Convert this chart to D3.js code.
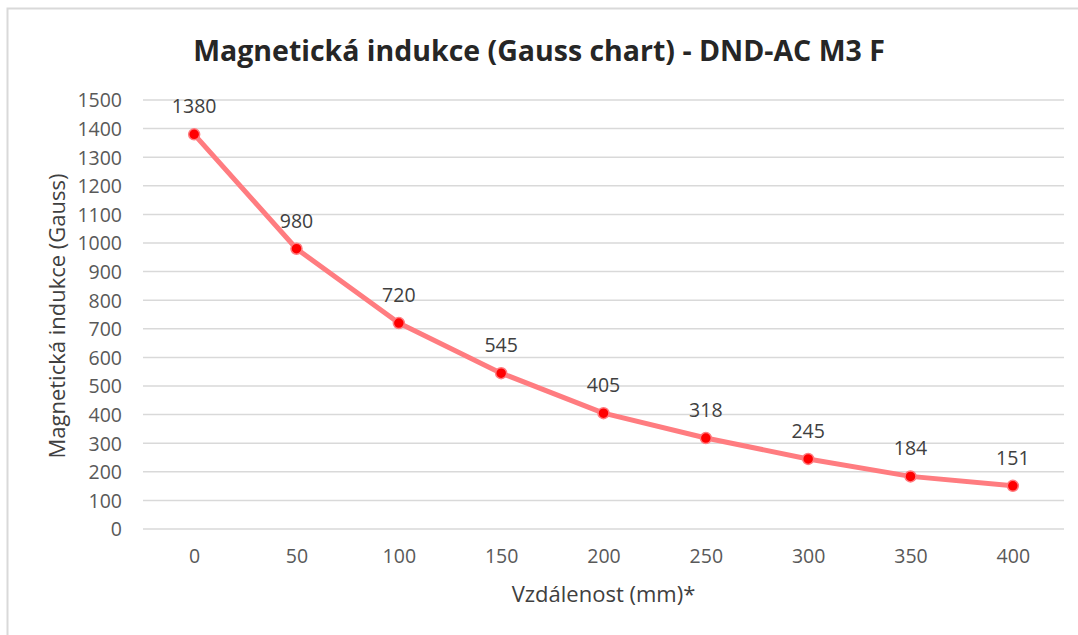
<!DOCTYPE html>
<style>
body { margin: 0; background: #fff; }
text { font-family: "Open Sans", "Noto Sans", sans-serif; }
.axis .domain { display: none; }
.axis .tick line { display: none; }
.axis text { fill: #595959; font-size: 19.5px; }
.grid line { stroke: #d9d9d9; stroke-width: 1.5; }
</style>
<svg width="1078" height="635"></svg>
<script src="https://d3js.org/d3.v7.min.js"></script>
<script>

var distances = [0, 50, 100, 150, 200, 250, 300, 350, 400];
var gauss = [1380, 980, 720, 545, 405, 318, 245, 184, 151];
var yTicks = [0, 100, 200, 300, 400, 500, 600, 700, 800, 900, 1000, 1100, 1200, 1300, 1400, 1500];

var svg = d3.select("svg");

// chart frame
svg.append("rect")
    .attr("x", 7.5).attr("y", 8.5)
    .attr("width", 1200).attr("height", 800)
    .attr("fill", "none")
    .attr("stroke", "#d9d9d9")
    .attr("stroke-width", 2);

var x = d3.scalePoint()
    .domain(distances)
    .range([143, 1064])
    .padding(0.5);

var y = d3.scaleLinear()
    .domain([0, 1500])
    .range([529, 100]);

svg.append("g")
    .attr("class", "grid")
  .selectAll("line")
  .data(yTicks)
  .enter().append("line")
    .attr("x1", 143)
    .attr("x2", 1064)
    .attr("y1", function(d) { return y(d); })
    .attr("y2", function(d) { return y(d); });

svg.append("g")
    .attr("class", "axis")
    .attr("transform", "translate(143,0)")
    .call(d3.axisLeft(y).tickValues(yTicks).tickFormat(d3.format("d")).tickSize(0).tickPadding(21))
  .selectAll("text")
    .attr("dy", "0.35em");

svg.append("g")
    .attr("class", "axis")
    .attr("transform", "translate(0,529)")
    .call(d3.axisBottom(x).tickSize(0).tickPadding(20));

var line = d3.line()
    .x(function(d, i) { return x(distances[i]); })
    .y(function(d) { return y(d); });

svg.append("path")
    .datum(gauss)
    .attr("fill", "none")
    .attr("stroke", "#ff7c80")
    .attr("stroke-width", 5)
    .attr("stroke-linejoin", "round")
    .attr("d", line);

svg.append("g")
  .selectAll("circle")
  .data(gauss)
  .enter().append("circle")
    .attr("cx", function(d, i) { return x(distances[i]); })
    .attr("cy", function(d) { return y(d); })
    .attr("r", 5.5)
    .attr("fill", "#ff0000")
    .attr("stroke", "#ff7c80")
    .attr("stroke-width", 1.5);

svg.append("g")
  .selectAll("text")
  .data(gauss)
  .enter().append("text")
    .attr("x", function(d, i) { return x(distances[i]); })
    .attr("y", function(d) { return y(d) - 21; })
    .attr("text-anchor", "middle")
    .attr("fill", "#404040")
    .attr("font-size", 19.5)
    .text(function(d) { return d; });

// title, scaled to the reference width
var title = svg.append("text")
    .attr("x", 539)
    .attr("y", 61)
    .attr("text-anchor", "middle")
    .attr("font-weight", "bold")
    .attr("fill", "#262626")
    .attr("font-size", 28)
    .text("Magnetická indukce (Gauss chart) - DND-AC M3 F");
var tw = title.node().getComputedTextLength();
title.attr("font-size", 28 * 692 / tw);

svg.append("text")
    .attr("x", 603.5)
    .attr("y", 602)
    .attr("text-anchor", "middle")
    .attr("fill", "#404040")
    .attr("font-size", 22)
    .text("Vzdálenost (mm)*");

svg.append("text")
    .attr("transform", "translate(65,316) rotate(-90)")
    .attr("text-anchor", "middle")
    .attr("fill", "#404040")
    .attr("font-size", 22)
    .text("Magnetická indukce (Gauss)");

</script>
